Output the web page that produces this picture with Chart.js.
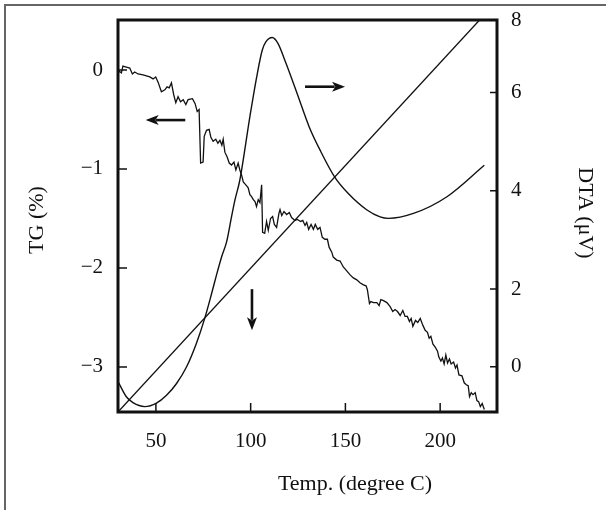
<!DOCTYPE html>
<html>
<head>
<meta charset="utf-8">
<script src="https://cdn.jsdelivr.net/npm/chart.js@4/dist/chart.umd.min.js"></script>
<style>
  html, body { margin:0; padding:0; background:#fff; overflow:hidden; width:606px; height:510px; }
  #frame { position:absolute; left:4px; top:4px; width:640px; height:540px; border:2px solid #666; box-sizing:border-box; }
  #c { position:absolute; left:0; top:0; }
</style>
</head>
<body>
<div id="frame"></div>
<canvas id="c" width="606" height="510"></canvas>
<script>
// eje X y ticks
const xTicks = [50, 100, 150, 200];
const tgTicks = [-3, -2, -1, 0];
// las marcas del eje DTA no estan espaciadas igual en la figura original
const dtaTickValues = [0.42, 2, 4, 6, 7.475];
const dtaTickLabels = ['0', '2', '4', '6', '8'];

// curva TG (%), con su ruido
const tgTemp = [30,30.5,31.8,32.6,34.4,36.2,37.6,38.8,40.6,43.2,46.8,48.5,49.9,51.1,52.9,54.7,55.9,57,58.2,59.4,60.5,61.7,63,64.4,65.8,67,69.3,70.7,71.8,72.8,73.6,74.9,75.5,76.7,78.1,79,80.2,81.6,82.7,83.8,84.8,85.5,86.4,87.6,88.7,89.9,91.2,92.2,93.4,
  94.3,95.2,96.1,97,97.9,98.7,99.6,100.5,101.4,102.3,103.1,104,104.9,105.8,106.3,107.4,108.4,109.3,110.5,111.6,112.5,113.7,114.9,115.5,116.4,117.6,119,120.4,121.6,123.4,124.6,126.4,127.5,128.7,129.6,130.6,131.9,133.1,134.1,135.4,136.6,137.8,139.2,140.5,141.4,142.8,143.6,145.4,147.2,148.9,150.7,152.5,154.2,
  156,157.7,159.5,160.9,161.6,162.7,163.4,164.8,166.6,167.8,168.7,170.1,171.9,173.6,175,176.2,177.5,178.9,180.3,181.5,182.7,183.8,184.7,185.6,187,188.2,189.5,190.9,192.1,193.3,194.2,195.1,196.2,197.4,198.6,199.3,200.4,201.2,202.1,203,203.9,204.9,205.8,207.1,208.1,208.9,209.9,211.5,212.7,213.8,214.8,215.5,216.4,217.3,218.5,219.4,220.3,221.2,222.2,223.3];
const tgVal = [-0.02,-0.01,-0.03,0.04,0.03,0.02,-0.04,-0.02,-0.04,-0.05,-0.07,-0.09,-0.07,-0.12,-0.22,-0.2,-0.17,-0.18,-0.13,-0.25,-0.33,-0.27,-0.32,-0.3,-0.35,-0.3,-0.29,-0.34,-0.42,-0.4,-0.94,-0.93,-0.67,-0.61,-0.6,-0.68,-0.72,-0.7,-0.74,-0.71,-0.76,-0.7,-0.83,-0.88,-0.94,-0.96,-0.93,-1.01,-0.94,
  -1.01,-1.06,-1.13,-1.15,-1.17,-1.19,-1.26,-1.28,-1.31,-1.33,-1.38,-1.31,-1.34,-1.16,-1.64,-1.65,-1.53,-1.62,-1.5,-1.48,-1.56,-1.59,-1.45,-1.41,-1.47,-1.43,-1.46,-1.44,-1.49,-1.52,-1.51,-1.53,-1.52,-1.57,-1.54,-1.61,-1.56,-1.61,-1.56,-1.61,-1.59,-1.69,-1.71,-1.71,-1.79,-1.84,-1.89,-1.92,-1.93,-1.99,-2.03,-2.07,-2.1,
  -2.12,-2.15,-2.17,-2.18,-2.22,-2.36,-2.34,-2.35,-2.35,-2.38,-2.32,-2.33,-2.35,-2.39,-2.44,-2.42,-2.44,-2.48,-2.43,-2.49,-2.49,-2.54,-2.51,-2.59,-2.53,-2.55,-2.51,-2.58,-2.63,-2.65,-2.71,-2.69,-2.77,-2.8,-2.84,-2.9,-2.94,-2.91,-2.97,-2.88,-2.96,-2.92,-2.97,-2.95,-3.01,-2.98,-3.08,-3.09,-3.16,-3.18,-3.19,-3.3,-3.26,-3.28,-3.26,-3.34,-3.35,-3.4,-3.37,-3.43];

// curva DTA (uV)
const dtaTemp = [30,34.4,37.9,44.1,50.3,55.6,60.9,66.2,71.4,75.8,79.4,82,84.7,87.3,89.9,91.7,94.3,99.6,103.2,106.1,108,111.4,114.4,118.6,124.8,130.9,137,144.2,151.4,161.4,168.3,172.7,185.9,203.6,223.3];
const dtaVal = [0.12,-0.19,-0.31,-0.39,-0.32,-0.16,0.08,0.42,0.9,1.41,1.91,2.29,2.66,2.96,3.47,3.81,4.22,5.51,6.32,6.86,7.03,7.12,7.0,6.6,5.95,5.3,4.8,4.29,3.95,3.61,3.47,3.44,3.54,3.88,4.52];

// recta de temperatura (sobre el eje TG)
const rampTemp = [30, 220.8];
const rampVal = [-3.455, 0.505];

// flechas (coordenadas de datos, eje TG)
const arrows = [
  { from:[65.5, -0.506], to:[44.6, -0.506] },
  { from:[128.7, -0.169], to:[149.8, -0.169] },
  { from:[100.7, -2.214], to:[100.7, -2.629] }
];

const INK = '#111';
const SERIF = '"Liberation Serif", "Times New Roman", serif';

function pts(xs, ys){ return xs.map((x,i)=>({x:x, y:ys[i]})); }

function drawArrow(ctx, x1, y1, x2, y2){
  const ang = Math.atan2(y2-y1, x2-x1), hl = 13, hw = 5;
  ctx.beginPath();
  ctx.moveTo(x1, y1);
  ctx.lineTo(x2 - Math.cos(ang)*hl*0.8, y2 - Math.sin(ang)*hl*0.8);
  ctx.lineWidth = 2.6; ctx.strokeStyle = INK; ctx.stroke();
  ctx.beginPath();
  ctx.moveTo(x2, y2);
  ctx.lineTo(x2 - Math.cos(ang)*hl - Math.sin(ang)*hw, y2 - Math.sin(ang)*hl + Math.cos(ang)*hw);
  ctx.lineTo(x2 - Math.cos(ang)*hl*0.75, y2 - Math.sin(ang)*hl*0.75);
  ctx.lineTo(x2 - Math.cos(ang)*hl + Math.sin(ang)*hw, y2 - Math.sin(ang)*hl - Math.cos(ang)*hw);
  ctx.closePath(); ctx.fillStyle = INK; ctx.fill();
}

const decor = {
  id:'decor',
  afterDatasetsDraw(chart){
    const ctx = chart.ctx, a = chart.chartArea, s = chart.scales;
    ctx.save();
    // marco
    ctx.lineWidth = 3; ctx.strokeStyle = INK;
    ctx.strokeRect(a.left, a.top, a.right - a.left, a.bottom - a.top);
    // ticks hacia dentro
    ctx.lineWidth = 1.5; ctx.beginPath();
    xTicks.forEach(v=>{ const x = s.x.getPixelForValue(v); ctx.moveTo(x, a.bottom); ctx.lineTo(x, a.bottom-9); });
    tgTicks.forEach(v=>{ const y = s.y.getPixelForValue(v); ctx.moveTo(a.left, y); ctx.lineTo(a.left+9, y); });
    dtaTickValues.forEach(v=>{ const y = s.y2.getPixelForValue(v); ctx.moveTo(a.right, y); ctx.lineTo(a.right-7, y); });
    ctx.stroke();
    // flechas
    arrows.forEach(ar=>{
      drawArrow(ctx, s.x.getPixelForValue(ar.from[0]), s.y.getPixelForValue(ar.from[1]),
                     s.x.getPixelForValue(ar.to[0]), s.y.getPixelForValue(ar.to[1]));
    });
    // titulos de ejes
    ctx.fillStyle = INK; ctx.font = '22px ' + SERIF;
    ctx.textAlign = 'center'; ctx.textBaseline = 'middle';
    ctx.fillText('Temp. (degree C)', 355, 484);
    ctx.save(); ctx.translate(37, 220); ctx.rotate(-Math.PI/2); ctx.fillText('TG (%)', 0, 0); ctx.restore();
    ctx.save(); ctx.translate(585, 213); ctx.rotate(Math.PI/2); ctx.fillText('DTA (\u03bcV)', 0, 0); ctx.restore();
    ctx.restore();
  }
};

new Chart(document.getElementById('c').getContext('2d'), {
  type:'line',
  data:{ datasets:[
    { data:pts(tgTemp, tgVal), yAxisID:'y', borderColor:INK, borderWidth:1.3, pointRadius:0, tension:0 },
    { data:pts(dtaTemp, dtaVal), yAxisID:'y2', borderColor:INK, borderWidth:1.4, pointRadius:0, cubicInterpolationMode:'monotone' },
    { data:pts(rampTemp, rampVal), yAxisID:'y', borderColor:INK, borderWidth:1.3, pointRadius:0 }
  ]},
  options:{
    responsive:false, animation:false, events:[],
    layout:{ padding:{ top:20, left:0, right:0, bottom:0 } },
    plugins:{ legend:{display:false}, tooltip:{enabled:false} },
    scales:{
      x:{ type:'linear', min:30, max:230,
        afterBuildTicks:sc=>{ sc.ticks = xTicks.map(v=>({value:v})); },
        afterFit:sc=>{ sc.height = 98; },
        grid:{display:false}, border:{display:false},
        ticks:{ padding:9, color:INK, font:{family:SERIF, size:21}, maxRotation:0 } },
      y:{ position:'left', min:-3.455, max:0.505,
        afterBuildTicks:sc=>{ sc.ticks = tgTicks.map(v=>({value:v})); },
        afterFit:sc=>{ sc.width = 118; },
        grid:{display:false}, border:{display:false},
        ticks:{ padding:7, color:INK, font:{family:SERIF, size:21},
          callback:v=> v < 0 ? '\u2212' + Math.abs(v) : String(v) } },
      y2:{ position:'right', min:-0.5, max:7.475,
        afterBuildTicks:sc=>{ sc.ticks = dtaTickValues.map(v=>({value:v})); },
        afterFit:sc=>{ sc.width = 109; },
        grid:{display:false}, border:{display:false},
        ticks:{ padding:6, color:INK, font:{family:SERIF, size:21},
          callback:(v,i)=> dtaTickLabels[i] } }
    }
  },
  plugins:[decor]
});
</script>
</body>
</html>
